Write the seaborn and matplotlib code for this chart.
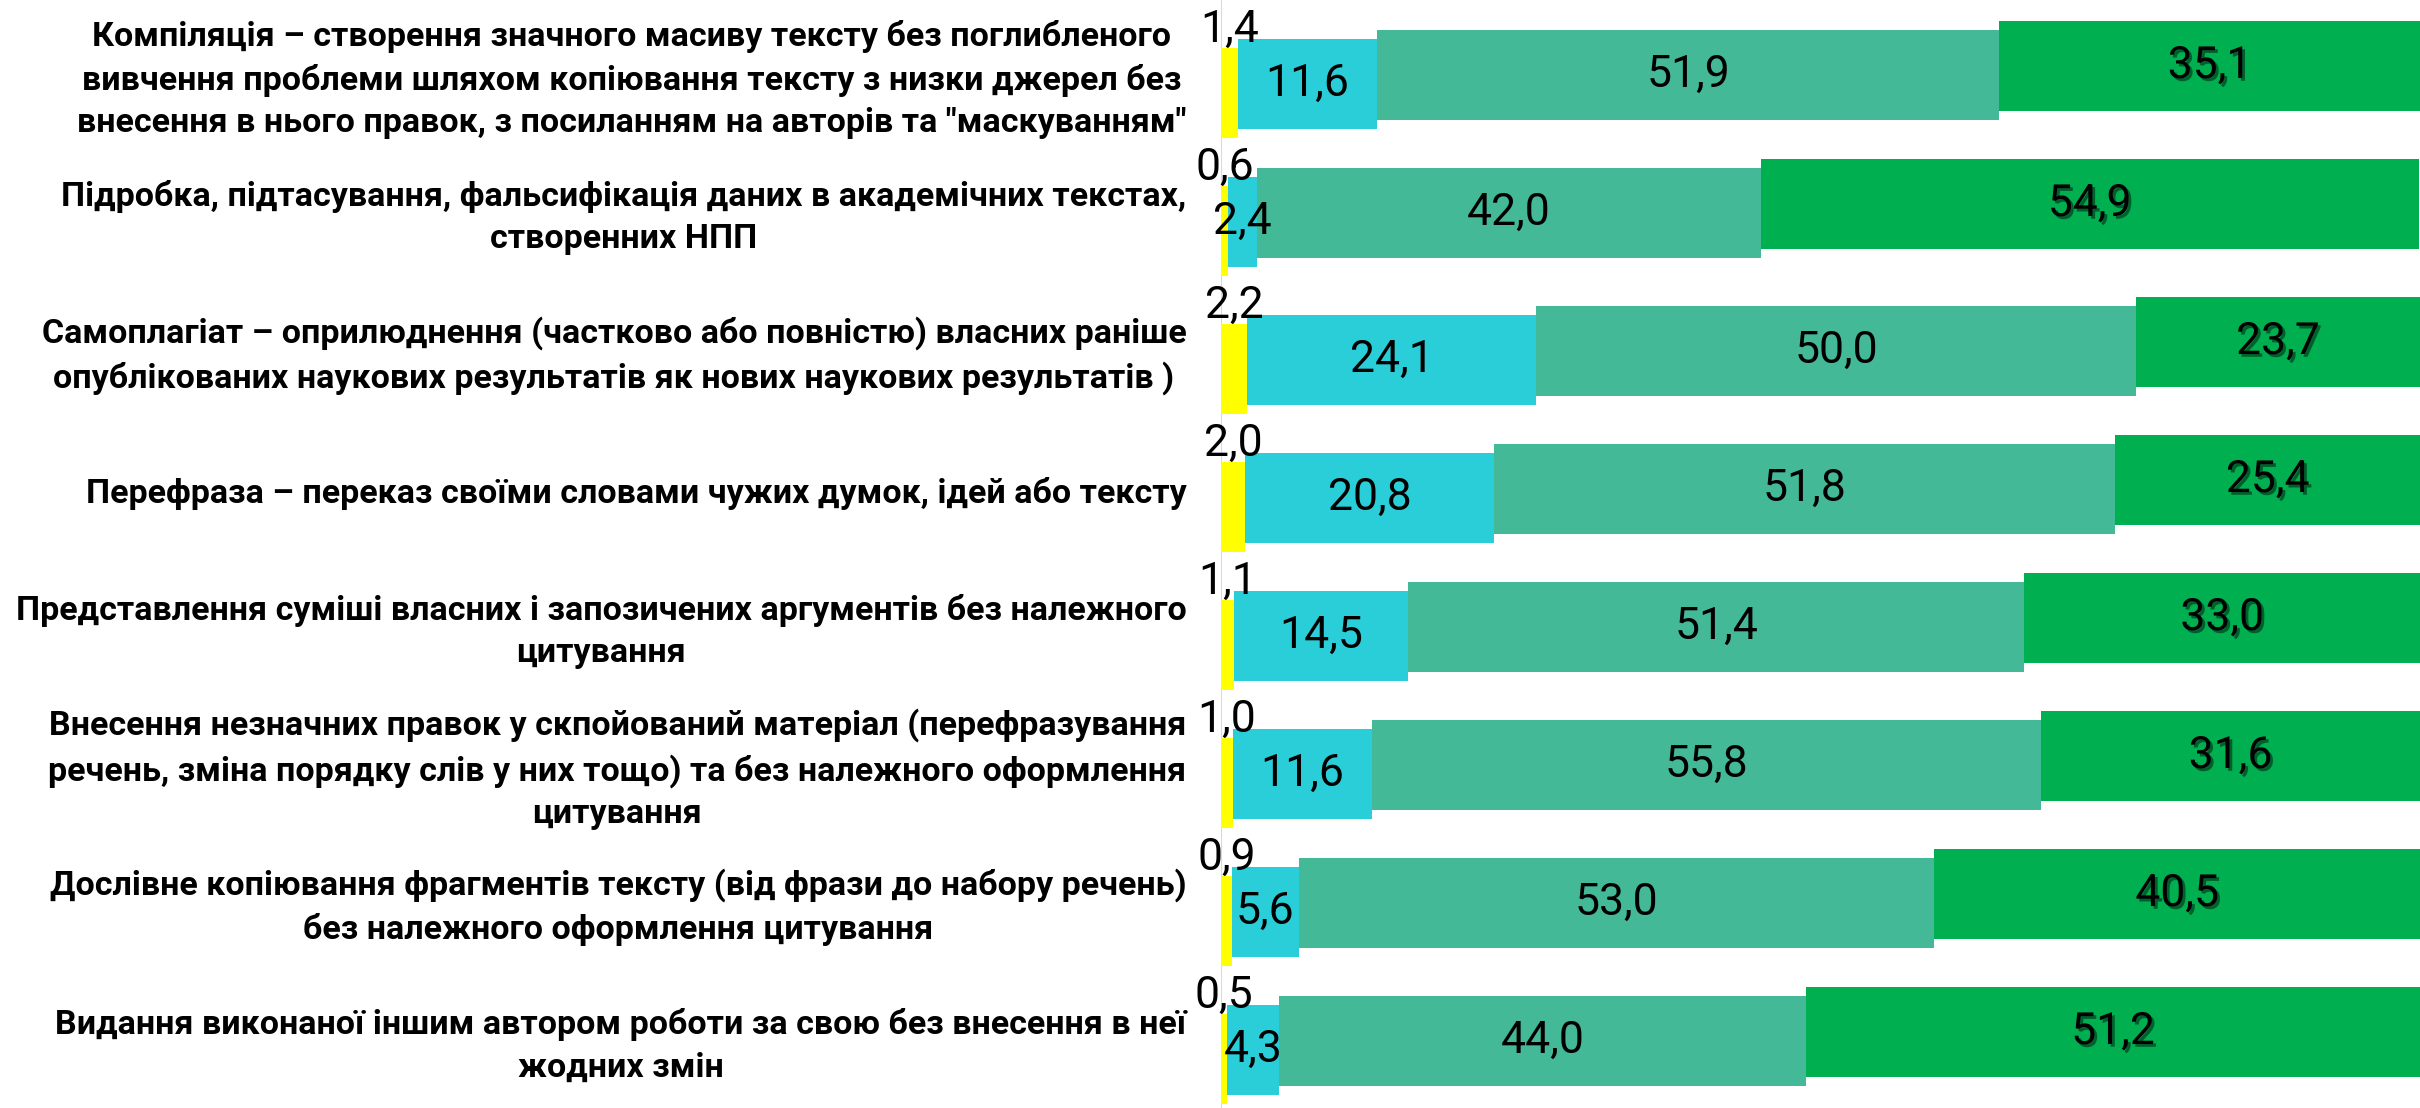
import numpy as np
import pandas as pd
import seaborn as sns
from matplotlib import pyplot as plt
import matplotlib.patheffects as pe

# Categories (top to bottom) and the four stacked series, in %
categories = [
    'Компіляція – створення значного масиву тексту без поглибленого\n'
    'вивчення проблеми шляхом копіювання тексту з низки джерел без\n'
    'внесення в нього правок, з посиланням на авторів та "маскуванням"',
    'Підробка, підтасування, фальсифікація даних в академічних текстах,\n'
    'створенних НПП',
    'Самоплагіат – оприлюднення (частково або повністю) власних раніше\n'
    'опублікованих наукових результатів як нових наукових результатів )',
    'Перефраза – переказ своїми словами чужих думок, ідей або тексту',
    'Представлення суміші власних і запозичених аргументів без належного\n'
    'цитування',
    'Внесення незначних правок у скпойований матеріал (перефразування\n'
    'речень, зміна порядку слів у них тощо) та без належного оформлення\n'
    'цитування',
    'Дослівне копіювання фрагментів тексту (від фрази до набору речень)\n'
    'без належного оформлення цитування',
    'Видання виконаної іншим автором роботи за свою без внесення в неї\n'
    'жодних змін',
]
s1 = [1.4, 0.6, 2.2, 2.0, 1.1, 1.0, 0.9, 0.5]
s2 = [11.6, 2.4, 24.1, 20.8, 14.5, 11.6, 5.6, 4.3]
s3 = [51.9, 42.0, 50.0, 51.8, 51.4, 55.8, 53.0, 44.0]
s4 = [35.1, 54.9, 23.7, 25.4, 33.0, 31.6, 40.5, 51.2]

series = [s1, s2, s3, s4]
colors = ['#FFFF00', '#29CED8', '#43B997', '#00AF50']

sns.set_theme(style='white')
plt.rcParams['font.family'] = ['Roboto', 'DejaVu Sans']
plt.rcParams['text.color'] = 'black'
plt.rcParams['ytick.color'] = 'black'
plt.rcParams['ytick.labelcolor'] = 'black'

fig = plt.figure(figsize=(24.2, 11.08), dpi=100)
ax = fig.add_axes([1221 / 2420, 0, (2420 - 1221) / 2420, 1])

bar_h = 0.657
step = 0.065   # each series is drawn a little higher than the previous one
pos = np.arange(len(categories))
num_size = 32

ax.axvline(0, color='#D9D9D9', lw=1.5, zorder=0)

left = np.zeros(len(categories))
for k, (vals, col) in enumerate(zip(series, colors)):
    y = pos + (1.5 - k) * step
    df = pd.DataFrame({'y': y, 'v': vals})
    sns.barplot(data=df, x='v', y='y', orient='y', native_scale=True,
                left=left, color=col, saturation=1, width=bar_h,
                errorbar=None, linewidth=0, ax=ax)
    vals = np.array(vals)
    for i in range(len(categories)):
        txt = f'{vals[i]:.1f}'.replace('.', ',')
        cx = left[i] + vals[i] / 2
        if k == 0:
            ax.text(cx, y[i] - bar_h / 2 + 0.02, txt, ha='center', va='bottom',
                    fontsize=num_size, color='black')
        elif k == 3:
            ax.text(cx, y[i], txt, ha='center', va='center', fontsize=num_size,
                    color='black',
                    path_effects=[pe.SimplePatchShadow(offset=(2, -2), shadow_rgbFace='black', alpha=0.45),
                                  pe.Normal()])
        else:
            ax.text(cx, y[i], txt, ha='center', va='center', fontsize=num_size, color='black')
    left = left + vals

ax.set_xlim(0, 100)
ax.set_ylim(7.453, -0.576)
ax.set_xticks([])
ax.set_yticks(pos)
ax.set_yticklabels(categories, fontsize=25, fontweight='bold', linespacing=1.4, color='black')
for lab in ax.get_yticklabels():
    lab.set_multialignment('center')
    lab.set_verticalalignment('center')
ax.tick_params(axis='y', length=0, pad=25)
ax.set_xlabel('')
ax.set_ylabel('')
sns.despine(ax=ax, left=True, bottom=True)

# fit the widest label to the width it has in the original (~1170 px)
fig.canvas.draw()
r = fig.canvas.get_renderer()
w = max(lab.get_window_extent(r).width for lab in ax.get_yticklabels())
new_size = 25 * 1170 / w
for lab in ax.get_yticklabels():
    lab.set_fontsize(new_size)
    lab.set_linespacing(1.4 * 25 / new_size)

fig.savefig('out.png', dpi=100)
